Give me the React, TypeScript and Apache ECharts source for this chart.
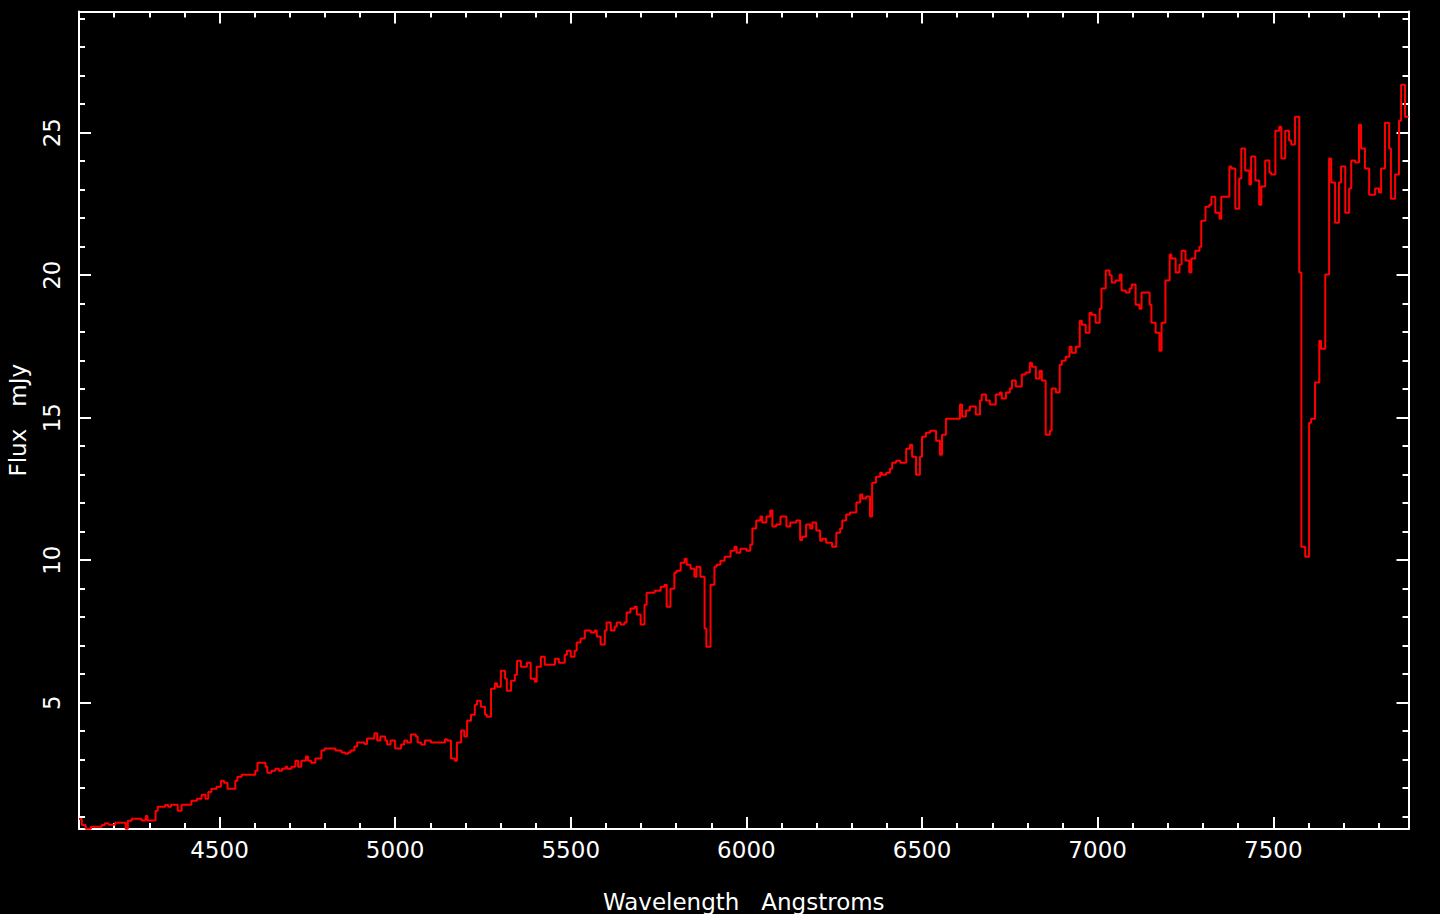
import React, { useEffect, useRef } from "react";
import * as echarts from "echarts";

// Left edge of each constant step (Angstroms) and the flux held until the next edge (mJy)
const wavelength = [
  4100, 4108, 4119, 4134, 4165, 4174, 4184, 4203, 4233, 4239, 4250, 4278, 4290, 4295, 4318, 4324, 4345, 4354, 4362, 4381,
  4392, 4420, 4436, 4449, 4460, 4468, 4477, 4492, 4504, 4513, 4523, 4545, 4551, 4563, 4602, 4608, 4631, 4636, 4648, 4659,
  4669, 4678, 4688, 4693, 4705, 4716, 4724, 4733, 4746, 4752, 4761, 4773, 4790, 4799, 4830, 4847,
  4858, 4866, 4873, 4884, 4892, 4913, 4920, 4941, 4949, 4958, 4972, 4977, 4987, 5000, 5017, 5026, 5034, 5045, 5059, 5064,
  5074, 5085, 5102, 5142, 5148, 5159, 5170, 5176, 5188, 5197, 5205, 5216, 5227, 5233, 5244, 5256, 5261, 5273, 5284, 5290,
  5301, 5313, 5318, 5330, 5341, 5347, 5358, 5375, 5386, 5398, 5403, 5415, 5426, 5455, 5466, 5483, 5489, 5500, 5511, 5517,
  5528, 5540, 5557, 5568, 5574, 5585, 5597, 5602, 5614,
  5625, 5631, 5642, 5653, 5659, 5670, 5682, 5688, 5699, 5710, 5716, 5739, 5756, 5767, 5773, 5784, 5795, 5801, 5813, 5824,
  5830, 5841, 5852, 5858, 5869, 5881, 5886, 5898, 5909, 5915, 5926, 5938, 5955, 5966, 5972, 5983, 6000, 6011, 6017, 6028,
  6040, 6045, 6057, 6068, 6074, 6085, 6097, 6114, 6125, 6142, 6153, 6159, 6170, 6182, 6188, 6199, 6210, 6216, 6227, 6244,
  6256, 6267, 6273, 6284, 6295, 6313, 6324, 6330, 6341, 6352, 6358, 6369, 6381, 6386,
  6398, 6409, 6415, 6426, 6438, 6455, 6466, 6472, 6483, 6494, 6500, 6511, 6523, 6540, 6551, 6557, 6568, 6608, 6614, 6625,
  6636, 6653, 6665, 6670, 6682, 6693, 6710, 6722, 6727, 6739, 6750, 6756, 6767, 6784, 6795, 6807, 6813, 6824, 6835, 6841,
  6852, 6864, 6869, 6881, 6892, 6898, 6909, 6920, 6926, 6938, 6949, 6955, 6966, 6977, 6983, 6994, 7006, 7011, 7023, 7034,
  7040, 7051, 7063, 7068, 7080, 7091, 7097, 7108, 7119, 7125, 7148, 7153, 7165, 7176, 7182,
  7193, 7205, 7210, 7222, 7233, 7239, 7250, 7261, 7267, 7278, 7290, 7295, 7307, 7318, 7324, 7335, 7347, 7352, 7375, 7381,
  7392, 7403, 7409, 7420, 7432, 7437, 7449, 7460, 7466, 7477, 7489, 7494, 7506, 7517, 7523, 7534, 7545, 7551, 7562, 7574,
  7580, 7591, 7602, 7608, 7619, 7631, 7636, 7648, 7659, 7665, 7676, 7687, 7693, 7705, 7716, 7722, 7733, 7744, 7750, 7761,
  7773, 7790, 7801, 7807, 7818, 7830, 7835, 7847, 7858, 7864, 7875, 7885,
];

const flux = [
  0.92, 0.71, 0.58, 0.65, 0.71, 0.77, 0.72, 0.79, 0.58, 0.86, 0.93, 0.87, 1.02, 0.87, 1.21, 1.35, 1.41, 1.35, 1.42, 1.21,
  1.42, 1.56, 1.63, 1.77, 1.63, 1.87, 1.98, 2.05, 2.26, 2.19, 1.98, 2.26, 2.4, 2.47, 2.61, 2.89, 2.75, 2.54, 2.61, 2.68,
  2.61, 2.68, 2.75, 2.68, 2.75, 2.96, 2.75, 2.96, 3.11, 2.96, 2.89, 3.04, 3.32, 3.39, 3.32, 3.25,
  3.21, 3.25, 3.32, 3.46, 3.6, 3.55, 3.74, 3.93, 3.67, 3.81, 3.67, 3.53, 3.67, 3.39, 3.53, 3.67, 3.6, 3.88, 3.81, 3.6,
  3.53, 3.67, 3.6, 3.72, 3.67, 3.04, 2.96, 3.6, 4.02, 3.81, 4.37, 4.58, 4.93, 5.07, 4.86, 4.58, 4.51, 5.49, 5.68, 5.56,
  6.12, 5.84, 5.42, 5.77, 5.98, 6.47, 6.26, 6.4, 5.84, 5.73, 6.26, 6.61, 6.33, 6.54, 6.4, 6.68, 6.82, 6.61, 6.82, 7.11,
  7.25, 7.53, 7.46, 7.53, 7.32, 7.04, 7.53, 7.81, 7.53,
  7.67, 7.81, 7.74, 7.81, 8.16, 8.3, 8.37, 8.09, 7.74, 8.44, 8.86, 8.93, 9.07, 9.14, 8.37, 9.0, 9.56, 9.63, 9.91, 10.05,
  9.84, 9.7, 9.42, 9.77, 9.42, 7.6, 6.96, 9.14, 9.77, 9.84, 9.98, 10.12, 10.33, 10.47, 10.26, 10.4, 10.33, 10.54, 11.11, 11.39,
  11.53, 11.32, 11.53, 11.74, 11.18, 11.25, 11.53, 11.18, 11.32, 11.39, 10.71, 10.82, 11.25, 11.11, 11.32, 11.04, 10.68, 10.75, 10.61, 10.47,
  10.96, 11.11, 11.39, 11.6, 11.67, 12.02, 12.3, 12.16, 12.23, 11.53, 12.72, 12.93, 13.07, 13.0,
  13.07, 13.21, 13.42, 13.49, 13.42, 13.91, 14.05, 13.63, 13.0, 13.63, 14.33, 14.47, 14.54, 14.19, 13.7, 14.4, 14.96, 15.46, 15.04, 15.25,
  15.39, 15.11, 15.6, 15.81, 15.6, 15.46, 15.81, 15.88, 15.67, 15.88, 16.02, 16.3, 16.09, 16.51, 16.58, 16.93, 16.79, 16.37, 16.65, 16.3,
  14.4, 14.54, 16.02, 15.88, 16.86, 17.0, 17.14, 17.49, 17.28, 17.49, 18.4, 18.26, 17.98, 18.68, 18.61, 18.33, 18.82, 19.53, 20.16, 20.0,
  19.74, 19.81, 20.02, 19.46, 19.39, 19.53, 19.67, 18.96, 18.82, 19.39, 18.96, 18.33, 17.98, 17.35, 18.33,
  19.81, 20.72, 20.58, 20.09, 20.37, 20.86, 20.51, 20.09, 20.58, 20.86, 21.0, 21.91, 22.4, 22.47, 22.75, 22.19, 21.98, 22.75, 23.81, 23.74,
  22.33, 23.39, 24.44, 23.67, 23.18, 24.16, 23.32, 22.47, 23.11, 24.02, 23.6, 23.53, 25.07, 25.21, 24.09, 25.07, 24.72, 24.58, 25.56, 20.09,
  10.47, 10.12, 14.82, 14.96, 16.23, 17.7, 17.42, 20.02, 24.09, 23.25, 21.84, 23.25, 23.81, 22.19, 23.04, 24.02, 23.95, 25.28, 24.44, 23.74,
  22.82, 23.04, 22.9, 23.74, 25.35, 24.44, 22.68, 23.53, 25.42, 26.68, 25.56, 25.56,
];

const xMajorTicks = [4500, 5000, 5500, 6000, 6500, 7000, 7500];
const xMinorTicks = [
  4200, 4300, 4400, 4600, 4700, 4800, 4900, 5100, 5200, 5300, 5400, 5600, 5700, 5800, 5900,
  6100, 6200, 6300, 6400, 6600, 6700, 6800, 6900, 7100, 7200, 7300, 7400, 7600, 7700, 7800,
];
const yMajorTicks = [5, 10, 15, 20, 25];
const yMinorTicks = [1, 2, 3, 4, 6, 7, 8, 9, 11, 12, 13, 14, 16, 17, 18, 19, 21, 22, 23, 24, 26, 27, 28, 29];

const X_MIN = 4100;
const X_MAX = 7885;
const Y_MIN = 0.568;
const Y_MAX = 29.25;

const FG = "#ffffff";
const FONT = "DejaVu Sans";

function tickAxis(pos: string, min: number, max: number, ticks: number[], len: number, showLine: boolean) {
  return {
    type: "value",
    position: pos,
    min,
    max,
    axisLine: { show: showLine, onZero: false, lineStyle: { color: FG, width: 2 } },
    axisTick: { show: true, inside: true, length: len, customValues: ticks, lineStyle: { color: FG, width: 2 } },
    axisLabel: { show: false },
    splitLine: { show: false },
    minorTick: { show: false },
  };
}

export default function App() {
  const ref = useRef<HTMLDivElement>(null);

  useEffect(() => {
    document.body.style.margin = "0";
    document.body.style.background = "#000";
    const chart = echarts.init(ref.current!, null, { renderer: "svg" });
    const data = wavelength.map((w, i) => [w, flux[i]]);

    chart.setOption({
      animation: false,
      backgroundColor: "#000",
      grid: { left: 79, right: 31.5, top: 11.5, bottom: 85, containLabel: false, outerBoundsMode: "none" },
      xAxis: [
        {
          type: "value",
          position: "bottom",
          min: X_MIN,
          max: X_MAX,
          axisLine: { show: true, onZero: false, lineStyle: { color: FG, width: 2 } },
          axisTick: { show: true, inside: true, length: 12, customValues: xMajorTicks, lineStyle: { color: FG, width: 2 } },
          axisLabel: {
            show: true,
            customValues: xMajorTicks,
            formatter: (v: number) => String(v),
            color: FG,
            fontFamily: FONT,
            fontSize: 23,
            margin: 9.5,
          },
          splitLine: { show: false },
          name: "Wavelength   Angstroms",
          nameLocation: "middle",
          nameGap: 61.5,
          nameTextStyle: { color: FG, fontFamily: FONT, fontSize: 23 },
        },
        tickAxis("bottom", X_MIN, X_MAX, xMinorTicks, 6, false),
        tickAxis("top", X_MIN, X_MAX, xMajorTicks, 12, true),
        tickAxis("top", X_MIN, X_MAX, xMinorTicks, 6, false),
      ],
      yAxis: [
        {
          type: "value",
          position: "left",
          min: Y_MIN,
          max: Y_MAX,
          axisLine: { show: true, onZero: false, lineStyle: { color: FG, width: 2 } },
          axisTick: { show: true, inside: true, length: 12, customValues: yMajorTicks, lineStyle: { color: FG, width: 2 } },
          axisLabel: {
            show: true,
            customValues: yMajorTicks,
            formatter: (v: number) => String(v),
            rotate: 90,
            color: FG,
            fontFamily: FONT,
            fontSize: 23,
            margin: 16,
          },
          splitLine: { show: false },
          name: "Flux   mJy",
          nameLocation: "middle",
          nameRotate: 90,
          nameGap: 50,
          nameTextStyle: { color: FG, fontFamily: FONT, fontSize: 23 },
        },
        tickAxis("left", Y_MIN, Y_MAX, yMinorTicks, 6, false),
        tickAxis("right", Y_MIN, Y_MAX, yMajorTicks, 12, true),
        tickAxis("right", Y_MIN, Y_MAX, yMinorTicks, 6, false),
      ],
      series: [
        {
          type: "line",
          step: "end",
          xAxisIndex: 0,
          yAxisIndex: 0,
          data,
          symbol: "none",
          showSymbol: false,
          lineStyle: { color: "#ff0000", width: 2 },
          itemStyle: { color: "#ff0000" },
          clip: true,
        },
      ],
    });

    return () => chart.dispose();
  }, []);

  return (
    <div
      ref={ref}
      style={{ position: "absolute", left: 0, top: 0, width: 1440, height: 914, background: "#000" }}
    />
  );
}
